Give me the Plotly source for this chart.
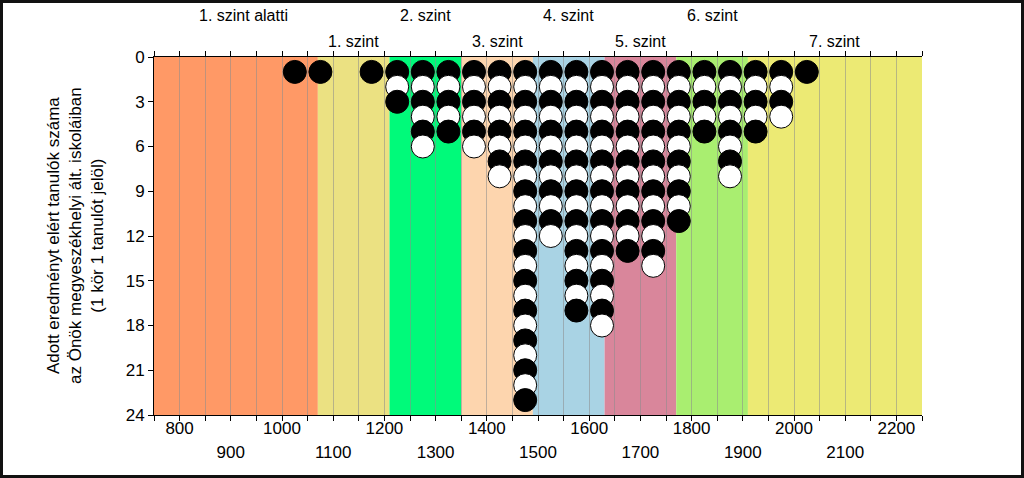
import plotly.graph_objects as go

# ---- data ----
score_bins = [1025, 1075, 1175, 1225, 1275, 1325, 1375, 1425, 1475, 1525,
              1575, 1625, 1675, 1725, 1775, 1825, 1875, 1925, 1975, 2025]
student_counts = [1, 1, 1, 3, 6, 5, 6, 8, 23, 12,
                  17, 18, 13, 14, 11, 5, 8, 5, 4, 1]

level_names = ["1. szint alatti", "1. szint", "2. szint", "3. szint",
               "4. szint", "5. szint", "6. szint", "7. szint"]
level_bounds = [750, 1070, 1210, 1350, 1490, 1630, 1770, 1910, 2250]
level_colors = ["#FF9966", "#EBE182", "#00FA7A", "#FDD5AE",
                "#A9D3E4", "#D9869B", "#A9EE70", "#ECEA74"]

x_major_labels_top = [800, 1000, 1200, 1400, 1600, 1800, 2000, 2200]
x_major_labels_bottom = [900, 1100, 1300, 1500, 1700, 1900, 2100]
y_ticks = [0, 3, 6, 9, 12, 15, 18, 21, 24]

FONT = "Arial, 'Liberation Sans', sans-serif"
W, H = 1024, 478
ML, MR, MT, MB = 154, 102, 57, 63
PW, PH = W - ML - MR, H - MT - MB

# expand counts into stacked circles (1 circle = 1 student);
# drawn row by row so each lower circle overlaps the one above it
pts = []
for xv, n in zip(score_bins, student_counts):
    for k in range(1, n + 1):
        pts.append((k, xv))
pts.sort()
cx = [p[1] for p in pts]
cy = [p[0] for p in pts]
cfill = ["black" if p[0] % 2 == 1 else "white" for p in pts]

fig = go.Figure()
fig.add_trace(go.Scatter(x=cx, y=cy, mode="markers", hoverinfo="skip",
                         marker=dict(size=23, color=cfill,
                                     line=dict(color="black", width=1))))
# invisible trace to activate xaxis2
fig.add_trace(go.Scatter(x=[level_bounds[0]], y=[0], xaxis="x2", mode="markers",
                         marker=dict(opacity=0), hoverinfo="skip"))

shapes = []
for i, c in enumerate(level_colors):
    shapes.append(dict(type="rect", xref="x", yref="paper",
                       x0=level_bounds[i], x1=level_bounds[i + 1], y0=0, y1=1,
                       fillcolor=c, line=dict(width=0), layer="below"))
# outer frame
shapes.append(dict(type="rect", xref="paper", yref="paper",
                   x0=(-ML + 1.5) / PW, x1=1 + (MR - 1.5) / PW,
                   y0=(-MB + 1.5) / PH, y1=1 + (MT - 1.5) / PH,
                   line=dict(color="#111111", width=3), fillcolor="rgba(0,0,0,0)"))

annotations = []
for i, name in enumerate(level_names):
    lo = level_bounds[i] if i > 0 else level_bounds[0] + 30
    mid = (lo + level_bounds[i + 1]) / 2
    row_y = 1 + (MT - 15) / PH if i % 2 == 0 else 1 + (MT - 41) / PH
    annotations.append(dict(x=mid, y=row_y, xref="x", yref="paper", text=name,
                            showarrow=False, font=dict(size=16, color="black", family=FONT),
                            xanchor="center", yanchor="middle"))
annotations.append(dict(x=(75 - ML) / PW, y=1 - (236 - MT) / PH, xref="paper", yref="paper",
                        text="Adott eredményt elért tanulók száma<br>az Önök megyeszékhelyi ált. iskoláiban<br>(1 kör 1 tanulót jelöl)",
                        textangle=-90, showarrow=False,
                        font=dict(size=17, color="black", family=FONT),
                        xanchor="center", yanchor="middle"))

all_ticks = list(range(level_bounds[0], level_bounds[-1] + 1, 50))
tick_text = [str(v) if v in x_major_labels_top else "" for v in all_ticks]

fig.update_layout(
    width=W, height=H,
    margin=dict(l=ML, r=MR, t=MT, b=MB, pad=0),
    paper_bgcolor="white", plot_bgcolor="white",
    showlegend=False,
    font=dict(family=FONT, size=17, color="black"),
    shapes=shapes, annotations=annotations,
    xaxis=dict(range=[level_bounds[0], level_bounds[-1]], tickmode="array",
               tickvals=all_ticks, ticktext=tick_text,
               ticks="outside", ticklen=5, tickcolor="black", tickwidth=1,
               showline=True, linecolor="black", linewidth=1, mirror="ticks",
               showgrid=True, gridcolor="rgba(140,140,140,0.55)", gridwidth=1,
               zeroline=False, tickfont=dict(size=17), ticklabelstandoff=-7),
    xaxis2=dict(range=[level_bounds[0], level_bounds[-1]], overlaying="x", side="bottom",
                tickmode="array", tickvals=x_major_labels_bottom,
                ticks="", showline=False, showgrid=False, zeroline=False,
                ticklabelstandoff=25, tickfont=dict(size=17)),
    yaxis=dict(range=[24, 0], tickmode="array", tickvals=y_ticks,
               ticks="outside", ticklen=5, tickcolor="black",
               showline=True, linecolor="black", linewidth=1,
               showgrid=False, zeroline=False, tickfont=dict(size=17)),
)

fig.write_html("out.html")
